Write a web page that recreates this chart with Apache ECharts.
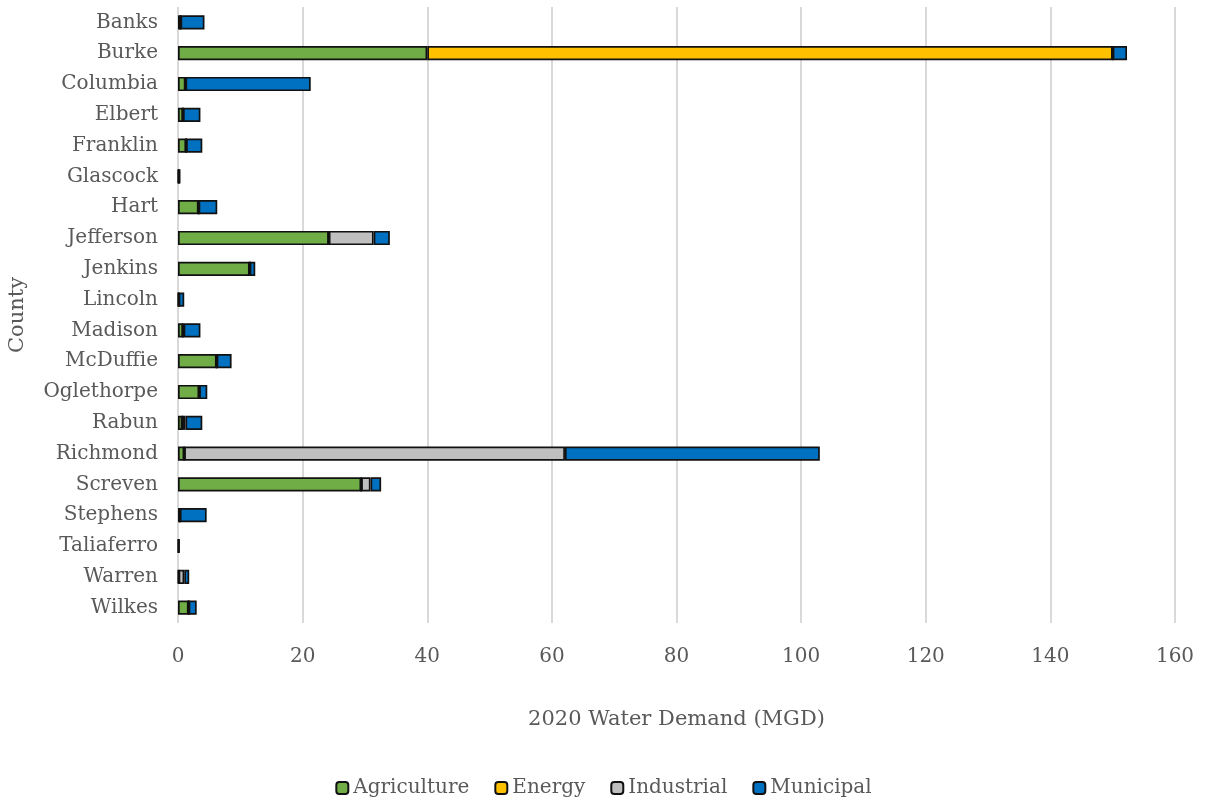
<!DOCTYPE html>
<html>
<head>
<meta charset="utf-8">
<script src="https://cdn.jsdelivr.net/npm/echarts@6/dist/echarts.min.js"></script>
<style>
  html, body { margin: 0; padding: 0; background: #fff; }
  #chart { width: 1207px; height: 800px; }
</style>
</head>
<body>
<div id="chart"></div>
<script>
// counties, top to bottom
const counties = ['Banks', 'Burke', 'Columbia', 'Elbert', 'Franklin', 'Glascock', 'Hart', 'Jefferson',
  'Jenkins', 'Lincoln', 'Madison', 'McDuffie', 'Oglethorpe', 'Rabun', 'Richmond', 'Screven',
  'Stephens', 'Taliaferro', 'Warren', 'Wilkes'];

// 2020 demand, MGD
const agriculture = [0.4, 40.0, 1.2, 0.8, 1.3, 0.1, 3.3, 24.2, 11.5, 0.1, 0.8, 6.2, 3.4, 0.7, 1.0, 29.4, 0.3, 0.1, 0.1, 1.7];
const energy      = [0, 110.0, 0, 0, 0, 0, 0, 0, 0, 0, 0, 0, 0, 0, 0, 0, 0, 0, 0, 0];
const industrial  = [0, 0, 0, 0, 0, 0, 0, 7.2, 0, 0, 0.1, 0, 0, 0.5, 61.1, 1.5, 0, 0, 0.9, 0];
const municipal   = [3.85, 2.3, 20.1, 2.8, 2.6, 0.3, 3.0, 2.6, 0.9, 0.9, 2.7, 2.4, 1.3, 2.7, 40.9, 1.7, 4.3, 0.1, 0.8, 1.3];

const xTicks = { min: 0, max: 160, interval: 20 };

const font = 'DejaVu Serif';
const textColor = '#595959';

function series(name, data, color) {
  return {
    name: name,
    type: 'bar',
    stack: 'total',
    data: data,
    barWidth: '46%',
    itemStyle: { color: color, borderColor: '#111', borderWidth: 1.7 },
    emphasis: { disabled: true }
  };
}

let chart = echarts.init(document.getElementById('chart'));
chart.setOption({
  animation: false,
  textStyle: { fontFamily: font },
  grid: { left: 178, right: 32, top: 7, bottom: 177, outerBoundsMode: 'none' },
  legend: {
    top: 773,
    left: 'center',
    itemWidth: 12,
    itemHeight: 12,
    itemGap: 25,
    textStyle: { fontFamily: font, fontSize: 20, color: textColor, padding: [0, 0, 0, 0] },
    data: ['Agriculture', 'Energy', 'Industrial', 'Municipal']
  },
  xAxis: {
    type: 'value',
    min: xTicks.min,
    max: xTicks.max,
    interval: xTicks.interval,
    name: '2020 Water Demand (MGD)',
    nameLocation: 'middle',
    nameGap: 86,
    nameTextStyle: { fontFamily: font, fontSize: 21, color: textColor },
    axisLine: { show: false },
    axisTick: { show: false },
    axisLabel: { fontFamily: font, fontSize: 20, color: textColor, margin: 24 },
    splitLine: { lineStyle: { color: '#d9d9d9', width: 2 } }
  },
  yAxis: {
    type: 'category',
    data: counties,
    inverse: true,
    name: 'County',
    nameLocation: 'middle',
    nameGap: 150,
    nameRotate: 90,
    nameTextStyle: { fontFamily: font, fontSize: 21, color: textColor },
    axisLine: { show: false },
    axisTick: { show: false },
    axisLabel: { fontFamily: font, fontSize: 20, color: textColor, margin: 20 }
  },
  series: [
    series('Agriculture', agriculture, '#70ad47'),
    series('Energy', energy, '#ffc000'),
    series('Industrial', industrial, '#bfbfbf'),
    series('Municipal', municipal, '#0070c0')
  ]
});
</script>
</body>
</html>
